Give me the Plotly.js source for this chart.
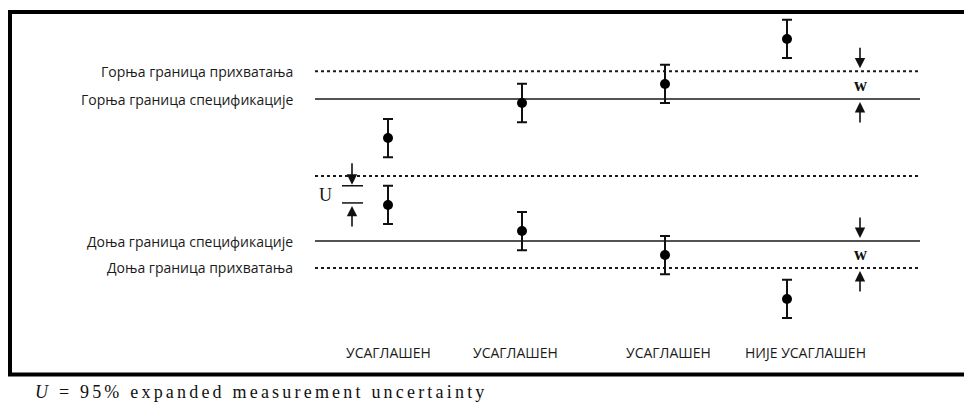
<!DOCTYPE html>
<html>
<head>
<meta charset="utf-8">
<script src="https://cdn.plot.ly/plotly-3.0.1.min.js"></script>
<style>
  html, body { margin: 0; padding: 0; background: #fff; }
  #chart { width: 964px; height: 405px; }
</style>
</head>
<body>
<div id="chart"></div>
<script>
// ---- data (measurement units; USL = 10, LSL = 0) ----
const upperAcceptance = 11.95;   // Горња граница прихватања
const upperSpec = 10;            // Горња граница спецификације
const uReference = 4.58;         // dotted reference line used for U
const lowerSpec = 0;             // Доња граница спецификације
const lowerAcceptance = -1.9;    // Доња граница прихватања
const U = 1.35;                  // expanded uncertainty (half width of bars)

const samplePos = [388, 522, 665, 787];          // horizontal position of each case
const upperResults = [7.25, 9.72, 11.06, 14.23]; // upper measured results
const lowerResults = [2.54, 0.70, -0.99, -4.08]; // lower measured results
const verdicts = ['УСАГЛАШЕН', 'УСАГЛАШЕН', 'УСАГЛАШЕН', 'НИЈЕ УСАГЛАШЕН'];
const verdictPos = [388, 515, 668, 805];

const limitLabels = ['Горња граница прихватања', 'Горња граница спецификације',
                     'Доња граница спецификације', 'Доња граница прихватања'];
const limitValues = [upperAcceptance, upperSpec, lowerSpec, lowerAcceptance];
const limitDash = ['dot', 'solid', 'solid', 'dot'];
const lineStart = 315, lineEnd = 920;
const wPos = 860;
const uPos = 352;

// ---- scales: 14.2 px per unit, LSL at 241 px ----
const pxPerUnit = 14.2, zeroPx = 241, H = 405;
const yRange = [(zeroPx - H) / pxPerUnit, zeroPx / pxPerUnit];
const px = p => p / pxPerUnit; // pixel length -> data units
const atPx = p => (zeroPx - p) / pxPerUnit; // pixel row -> data value

const traces = [];
const allLines = limitValues.concat([uReference]);
const allDash = limitDash.concat(['dot']);
allLines.forEach((v, i) => {
  traces.push({
    x: [lineStart, lineEnd], y: [v, v], mode: 'lines', hoverinfo: 'skip',
    line: { color: '#1a1a1a', width: allDash[i] === 'dot' ? 2 : 1.6, dash: allDash[i] }
  });
});
[upperResults, lowerResults].forEach(arr => {
  traces.push({
    x: samplePos, y: arr, mode: 'markers', type: 'scatter',
    marker: { color: '#000', size: 10, symbol: 'circle' },
    error_y: { type: 'constant', value: U, color: '#111', thickness: 2, width: 5 }
  });
});

const sansFont = { family: 'Open Sans, Noto Sans, sans-serif', size: 14, color: '#1a1a1a' };
const annotations = [];
limitValues.forEach((v, i) => {
  annotations.push({
    x: 295, y: v, xref: 'x', yref: 'y', text: limitLabels[i], showarrow: false,
    xanchor: 'right', yanchor: 'middle', font: sansFont
  });
});
verdicts.forEach((t, i) => {
  annotations.push({
    x: verdictPos[i], y: atPx(352), xref: 'x', yref: 'y', text: t, showarrow: false,
    xanchor: 'center', yanchor: 'middle', font: sansFont
  });
});
function arrow(x, yTip, yTail) {
  annotations.push({
    x: x, y: yTip, ax: x, ay: yTail, xref: 'x', yref: 'y', axref: 'x', ayref: 'y',
    text: '', showarrow: true, arrowhead: 2, arrowsize: 1.3, arrowwidth: 1.6, arrowcolor: '#111'
  });
}
const gap = px(3), len = px(22);
arrow(wPos, upperAcceptance + gap, upperAcceptance + gap + len);
arrow(wPos, upperSpec - gap, upperSpec - gap - len);
arrow(wPos, lowerSpec + gap, lowerSpec + gap + len);
arrow(wPos, lowerAcceptance - gap, lowerAcceptance - gap - len);
const wFont = { family: 'Liberation Serif, Times New Roman, serif', size: 18, color: '#111' };
annotations.push({ x: wPos, y: (upperAcceptance + upperSpec) / 2, xref: 'x', yref: 'y', text: '<b>w</b>',
  showarrow: false, font: wFont, yanchor: 'middle' });
annotations.push({ x: wPos, y: (lowerSpec + lowerAcceptance) / 2, xref: 'x', yref: 'y', text: '<b>w</b>',
  showarrow: false, font: wFont, yanchor: 'middle' });
// U arrows (from top of the first lower result's bar to its centre)
const uTop = lowerResults[0] + U, uBot = lowerResults[0];
arrow(uPos, uTop + px(1), uTop + px(24));
arrow(uPos, uBot - px(1), uBot - px(23));
annotations.push({ x: uPos - 27, y: (uTop + uBot) / 2, xref: 'x', yref: 'y', text: 'U',
  showarrow: false, font: { family: 'Liberation Serif, Times New Roman, serif', size: 18, color: '#111' } });
// footnote
annotations.push({ x: 33, y: atPx(392), xref: 'x', yref: 'y', text:
  '<span style="letter-spacing:3.2px"><i>U</i> = 95% expanded measurement uncertainty</span>',
  showarrow: false, xanchor: 'left', yanchor: 'middle',
  font: { family: 'Liberation Serif, Times New Roman, serif', size: 18, color: '#111' } });

const shapes = [
  { type: 'rect', xref: 'x', yref: 'y', x0: 10, x1: 1000, y0: atPx(12), y1: atPx(374.5),
    line: { color: '#000', width: 4 }, fillcolor: 'rgba(0,0,0,0)' },
  { type: 'line', xref: 'x', yref: 'y', x0: uPos - 10, x1: uPos + 11, y0: uTop, y1: uTop, line: { color: '#111', width: 1.5 } },
  { type: 'line', xref: 'x', yref: 'y', x0: uPos - 10, x1: uPos + 11, y0: uBot + px(2), y1: uBot + px(2), line: { color: '#111', width: 1.5 } }
];

const layout = {
  width: 964, height: 405,
  margin: { l: 0, r: 0, t: 0, b: 0 },
  paper_bgcolor: '#fff', plot_bgcolor: '#fff',
  showlegend: false,
  xaxis: { range: [0, 964], visible: false, fixedrange: true },
  yaxis: { range: yRange, visible: false, fixedrange: true },
  annotations: annotations,
  shapes: shapes
};

Plotly.newPlot('chart', traces, layout, { staticPlot: true, displayModeBar: false });
</script>
</body>
</html>
